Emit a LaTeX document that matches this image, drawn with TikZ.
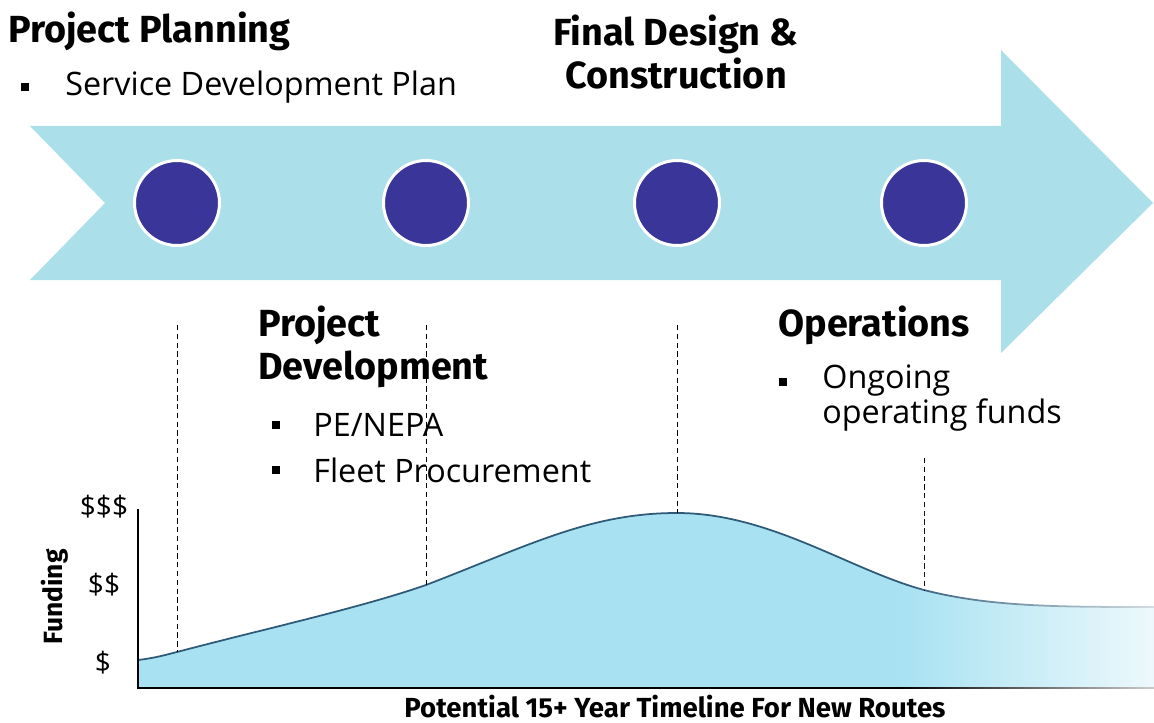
\documentclass[tikz,border=0pt]{standalone}
\usepackage{fontspec}
\setmainfont{Open Sans}
\newfontfamily\headfont{Fira Sans}
\usetikzlibrary{positioning,fadings}
\definecolor{band}{HTML}{ABDFE9}
\definecolor{mile}{HTML}{3A3598}
\definecolor{fund}{HTML}{A8E2F2}
\definecolor{fundline}{HTML}{2E5A78}
\tikzfading[name=fadein,left color=transparent!100,right color=transparent!0]

\begin{document}
\begin{tikzpicture}[x=0.02cm,y=-0.02cm,
    phase/.style={font=\headfont\bfseries\fontsize{21.5}{24.5}\selectfont,inner sep=0pt,align=left},
    item/.style={font=\fontsize{18.4}{17.6}\selectfont,inner sep=0pt,anchor=west,align=left},
    sqbullet/.style={fill=black,inner sep=0pt,minimum size=0.16cm},
    milestone/.style={circle,fill=mile,draw=white,line width=1.7pt,minimum size=1.7cm,inner sep=0pt},
    drop/.style={densely dashed,line width=0.5pt},
    axisline/.style={line width=1.6pt},
    dollar/.style={font=\fontsize{16}{18}\selectfont,inner sep=0pt},
]
\useasboundingbox (0,0) rectangle (1154,723);

% Timeline arrow
\fill[band] (30,126) -- (1001,126) -- (1001,50) -- (1153,203) -- (1001,353)
  -- (1001,280) -- (30,280) -- (105,203) -- cycle;
\node[milestone] (m1) at (177,203) {};
\node[milestone] (m2) at (426,203) {};
\node[milestone] (m3) at (677,203) {};
\node[milestone] (m4) at (924,203) {};

% Project Planning
\node[phase,anchor=west] (plan) at (8,31) {Project Planning};
\node[sqbullet] (b1) at (25,87) {};
\node[item] (sdp) at (65,87) {Service Development Plan};

% Final Design & Construction
\node[phase,align=center] (final) at (676,52) {Final Design \&\\Construction};

% Project Development
\node[phase,anchor=west] (dev) at (258,347) {Project\\Development};
\node[sqbullet] (b2) at (276,425) {};
\node[item] (pe) at (313,425) {PE/NEPA};
\node[sqbullet] (b3) at (276,470) {};
\node[item] (fleet) at (313,470) {Fleet Procurement};

% Operations
\node[phase,anchor=west] (ops) at (778,325) {Operations};
\node[sqbullet] (b4) at (783,382) {};
\node[item] (funds) at (822,398) {Ongoing\\operating funds};

% Funding curve
\coordinate (orig) at (138,688);
\coordinate (ytop) at (138,509);
\coordinate (xend) at (1154,688);
\fill[fund] (orig) -- (138,660) .. controls (155,658) and (165,655) .. (177,652)
  .. controls (260,630) and (360,608) .. (426,585)
  .. controls (530,545) and (590,513) .. (677,513)
  .. controls (770,513) and (850,570) .. (924,590)
  .. controls (990,607) and (1060,607) .. (1154,607) -- (xend) -- cycle;
\draw[fundline,line width=1pt] (138,660) .. controls (155,658) and (165,655) .. (177,652)
  .. controls (260,630) and (360,608) .. (426,585)
  .. controls (530,545) and (590,513) .. (677,513)
  .. controls (770,513) and (850,570) .. (924,590)
  .. controls (990,607) and (1060,607) .. (1154,607);

% Drop lines
\coordinate (d1a) at (177,325); \coordinate (d1b) at (177,652);
\coordinate (d2a) at (426,325); \coordinate (d2b) at (426,585);
\coordinate (d3a) at (677,325); \coordinate (d3b) at (677,513);
\coordinate (d4a) at (924,458); \coordinate (d4b) at (924,590);
\draw[drop] (d1a) -- (d1b);
\draw[drop] (d2a) -- (d2b);
\draw[drop] (d3a) -- (d3b);
\draw[drop] (d4a) -- (d4b);

% Axes
\draw[axisline] (ytop) -- (orig) -- (xend);
\fill[white,path fading=fadein] (900,495) rectangle (1220,700);
\node[dollar] (hi) at (104,507) {\$\$\$};
\node[dollar] (mid) at (104,585) {\$\$};
\node[dollar] (lo) at (103,663) {\$};
\node[font=\headfont\bfseries\fontsize{15}{17}\selectfont,rotate=90,inner sep=0pt] (ylab) at (55,597) {Funding};
\node[font=\headfont\bfseries\fontsize{15.7}{17}\selectfont,inner sep=0pt] (xlab) at (675,707) {Potential 15+ Year Timeline For New Routes};
\end{tikzpicture}
\end{document}
